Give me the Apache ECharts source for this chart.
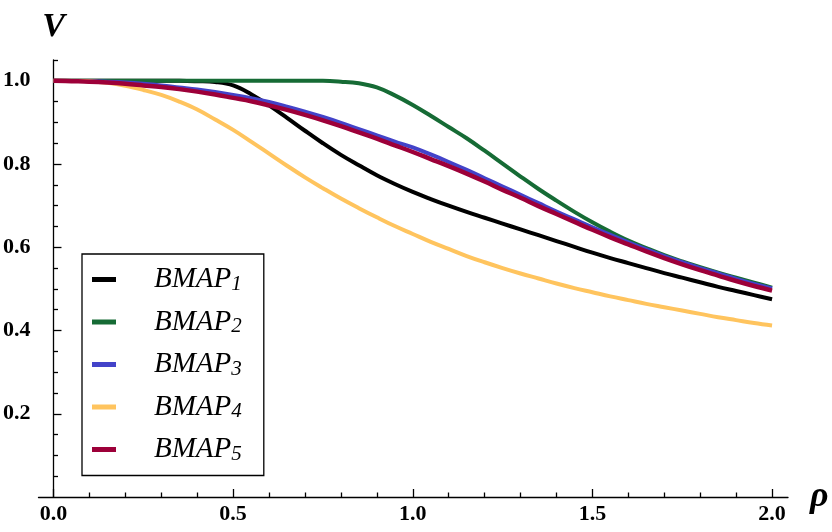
<!DOCTYPE html>
<html>
<head>
<meta charset="utf-8">
<script src="https://cdn.jsdelivr.net/npm/echarts@6/dist/echarts.min.js"></script>
<style>
  html, body { margin: 0; padding: 0; background: #ffffff; }
  #chart { width: 832px; height: 532px; }
</style>
</head>
<body>
<div id="chart"></div>
<script>
// Radial coordinate samples shared by every curve
const rho = [0, 0.05, 0.1, 0.15, 0.2, 0.25, 0.3, 0.35, 0.4, 0.45, 0.5, 0.55, 0.6, 0.65, 0.7, 0.75, 0.8, 0.85, 0.9, 0.95,
             1.0, 1.05, 1.1, 1.15, 1.2, 1.25, 1.3, 1.35, 1.4, 1.45, 1.5, 1.55, 1.6, 1.65, 1.7, 1.75, 1.8, 1.85, 1.9, 1.95, 2.0];

// Potential V(rho) for each BMAP variant
const bmap1 = [1.0, 1.0, 1.0, 1.0, 1.0, 1.0, 1.0, 1.0, 0.999, 0.997, 0.989, 0.968, 0.941, 0.911, 0.880, 0.850, 0.822, 0.797, 0.773, 0.752,
               0.733, 0.716, 0.700, 0.685, 0.671, 0.657, 0.643, 0.629, 0.615, 0.601, 0.587, 0.574, 0.562, 0.550, 0.538, 0.527, 0.516, 0.505, 0.495, 0.485, 0.475];
const bmap2 = [1.0, 1.0, 1.0, 1.0, 1.0, 1.0, 1.0, 1.0, 1.0, 1.0, 1.0, 1.0, 1.0, 1.0, 1.0, 1.0, 0.998, 0.994, 0.984, 0.965,
               0.942, 0.916, 0.889, 0.862, 0.832, 0.801, 0.770, 0.740, 0.712, 0.685, 0.660, 0.637, 0.616, 0.598, 0.581, 0.566, 0.552, 0.539, 0.527, 0.515, 0.503];
const bmap3 = [1.0, 1.0, 0.999, 0.998, 0.996, 0.993, 0.989, 0.984, 0.979, 0.973, 0.966, 0.958, 0.949, 0.938, 0.926, 0.913, 0.899, 0.884, 0.869, 0.854,
               0.840, 0.823, 0.805, 0.786, 0.766, 0.746, 0.726, 0.706, 0.686, 0.667, 0.648, 0.630, 0.612, 0.595, 0.579, 0.564, 0.550, 0.537, 0.524, 0.512, 0.501];
const bmap4 = [1.0, 1.0, 0.999, 0.995, 0.988, 0.978, 0.966, 0.950, 0.931, 0.907, 0.882, 0.854, 0.825, 0.796, 0.768, 0.742, 0.717, 0.694, 0.672, 0.651,
               0.632, 0.613, 0.596, 0.579, 0.564, 0.550, 0.537, 0.525, 0.513, 0.502, 0.492, 0.482, 0.473, 0.464, 0.456, 0.448, 0.440, 0.432, 0.425, 0.418, 0.412];
const bmap5 = [1.0, 0.999, 0.998, 0.996, 0.993, 0.989, 0.985, 0.980, 0.974, 0.967, 0.959, 0.951, 0.941, 0.930, 0.918, 0.905, 0.891, 0.876, 0.861, 0.845,
               0.829, 0.812, 0.795, 0.777, 0.758, 0.738, 0.719, 0.699, 0.680, 0.661, 0.642, 0.624, 0.607, 0.590, 0.574, 0.559, 0.545, 0.532, 0.519, 0.507, 0.496];

const seriesNames = ['BMAP1', 'BMAP2', 'BMAP3', 'BMAP4', 'BMAP5'];
const seriesValues = [bmap1, bmap2, bmap3, bmap4, bmap5];
const seriesColors = ['#000000', '#166b35', '#4343c9', '#ffc45e', '#9d0039'];

// Tick positions
const xMajorTicks = [0, 0.5, 1.0, 1.5, 2.0];
const xMinorTicks = [0.1, 0.2, 0.3, 0.4, 0.6, 0.7, 0.8, 0.9, 1.1, 1.2, 1.3, 1.4, 1.6, 1.7, 1.8, 1.9];
const yMajorTicks = [0.2, 0.4, 0.6, 0.8, 1.0];
const yMinorTicks = [0.05, 0.1, 0.15, 0.25, 0.3, 0.35, 0.45, 0.5, 0.55, 0.65, 0.7, 0.75, 0.85, 0.9, 0.95, 1.05];

const X_MIN = -0.0417, X_MAX = 2.0444;
const Y_MIN = 0, Y_MAX = 1.05;

const serif = '"Liberation Serif", "DejaVu Serif", serif';
const axisLineStyle = { color: '#000', width: 1.3 };
const tickLabelStyle = { color: '#000', fontFamily: serif, fontWeight: 'bold', fontSize: 22 };
const axisNameStyle = { color: '#000', fontFamily: serif, fontWeight: 'bold', fontStyle: 'italic', fontSize: 34 };

function majorX() {
  return {
    type: 'value', position: 'bottom', min: X_MIN, max: X_MAX,
    axisLine: { show: true, onZero: false, lineStyle: axisLineStyle },
    axisTick: { show: true, inside: true, length: 8, customValues: xMajorTicks, lineStyle: axisLineStyle },
    axisLabel: { show: true, margin: 6, customValues: xMajorTicks, formatter: v => v.toFixed(1), ...tickLabelStyle },
    splitLine: { show: false },
    name: 'ρ', nameLocation: 'end', nameGap: 22,
    nameTextStyle: { ...axisNameStyle, fontSize: 36, padding: [0, 0, 14, 0] }
  };
}
function minorX() {
  return {
    type: 'value', position: 'bottom', min: X_MIN, max: X_MAX,
    axisLine: { show: false, onZero: false },
    axisTick: { show: true, inside: true, length: 4.5, customValues: xMinorTicks, lineStyle: axisLineStyle },
    axisLabel: { show: false },
    splitLine: { show: false }
  };
}
function majorY() {
  return {
    type: 'value', position: 'left', min: Y_MIN, max: Y_MAX,
    axisLine: { show: true, onZero: true, lineStyle: axisLineStyle },
    axisTick: { show: true, inside: true, length: 8, customValues: yMajorTicks, lineStyle: axisLineStyle },
    axisLabel: { show: true, margin: 8, customValues: yMajorTicks, formatter: v => v.toFixed(1), ...tickLabelStyle },
    splitLine: { show: false },
    name: 'V', nameLocation: 'end', nameGap: 16,
    nameTextStyle: axisNameStyle
  };
}
function minorY() {
  return {
    type: 'value', position: 'left', min: Y_MIN, max: Y_MAX,
    axisLine: { show: false, onZero: true },
    axisTick: { show: true, inside: true, length: 4.5, customValues: yMinorTicks, lineStyle: axisLineStyle },
    axisLabel: { show: false },
    splitLine: { show: false }
  };
}

const chart = echarts.init(document.getElementById('chart'), null, { renderer: 'canvas' });

chart.setOption({
  animation: false,
  backgroundColor: '#ffffff',
  grid: { left: 37, right: 44, top: 60, bottom: 35, containLabel: false },
  xAxis: [majorX(), minorX()],
  yAxis: [majorY(), minorY()],
  legend: {
    orient: 'vertical',
    left: 82, top: 254,
    padding: [11, 22, 11, 10],
    itemGap: 13,
    itemWidth: 24, itemHeight: 5,
    icon: 'rect',
    borderColor: '#000', borderWidth: 1.3,
    backgroundColor: '#ffffff',
    data: seriesNames,
    formatter: name => '{m|' + name.slice(0, 4) + '}{s|' + name.slice(4) + '}',
    textStyle: {
      rich: {
        m: { fontFamily: serif, fontStyle: 'italic', fontSize: 29, lineHeight: 30, color: '#000', padding: [0, 0, 0, 33] },
        s: { fontFamily: serif, fontStyle: 'italic', fontSize: 21, lineHeight: 20, color: '#000', verticalAlign: 'bottom' }
      }
    }
  },
  series: seriesNames.map((name, i) => ({
    name,
    type: 'line',
    xAxisIndex: 0,
    yAxisIndex: 0,
    data: rho.map((x, k) => [x, seriesValues[i][k]]),
    smooth: 0.4,
    showSymbol: false,
    symbol: 'none',
    color: seriesColors[i],
    lineStyle: { color: seriesColors[i], width: i === 4 ? 4.5 : 4 },
    z: 2 + i
  }))
});
</script>
</body>
</html>
